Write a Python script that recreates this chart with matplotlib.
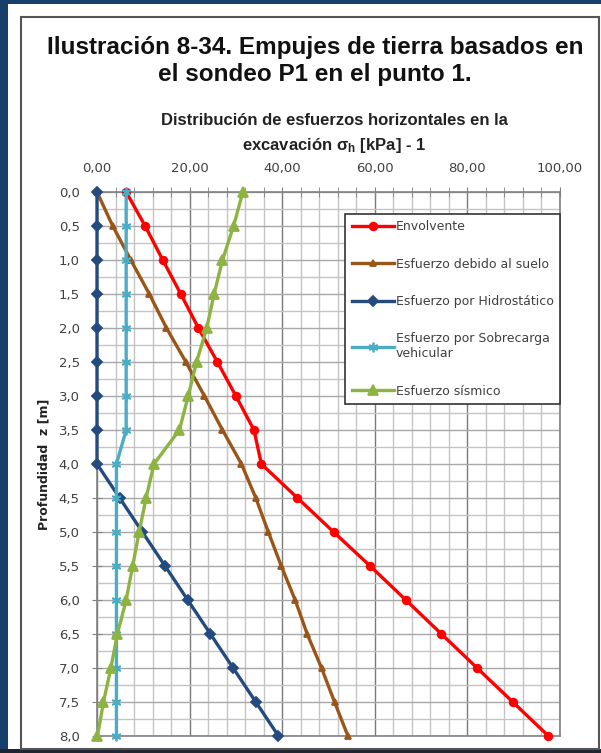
import numpy as np
import matplotlib.pyplot as plt
from matplotlib.patches import Rectangle
from matplotlib.ticker import MultipleLocator, FuncFormatter

# profundidad [m]
z = [0.0, 0.5, 1.0, 1.5, 2.0, 2.5, 3.0, 3.5, 4.0, 4.5, 5.0, 5.5, 6.0, 6.5, 7.0, 7.5, 8.0]

# esfuerzos horizontales [kPa]
envolvente = [6.3, 10.4, 14.2, 18.1, 21.9, 26.0, 30.0, 33.9, 35.5, 43.3, 51.1, 59.0, 66.7, 74.4, 82.1, 89.8, 97.5]
suelo = [0.0, 3.4, 7.3, 11.3, 15.0, 19.2, 23.2, 27.1, 31.2, 34.3, 37.0, 39.8, 42.8, 45.4, 48.5, 51.3, 54.2]
hidro = [0.0, 0.0, 0.0, 0.0, 0.0, 0.0, 0.0, 0.0, 0.0, 4.9, 9.8, 14.7, 19.6, 24.5, 29.4, 34.3, 39.2]
sobrecarga = [6.3, 6.3, 6.3, 6.3, 6.3, 6.3, 6.3, 6.3, 4.2, 4.2, 4.2, 4.2, 4.2, 4.2, 4.2, 4.2, 4.2]
sismico = [31.5, 29.5, 27.1, 25.3, 23.7, 21.5, 19.7, 17.8, 12.3, 10.6, 9.1, 7.7, 6.3, 4.4, 3.0, 1.4, 0.1]

series = [
    ("Envolvente", envolvente, "#ff0000", "o", 5.5),
    ("Esfuerzo debido al suelo", suelo, "#9a5518", "^", 5),
    ("Esfuerzo por Hidrostático", hidro, "#234b80", "D", 5),
    ("Esfuerzo por Sobrecarga\nvehicular", sobrecarga, "#4bacc6", (6, 2, 0), 7),
    ("Esfuerzo sísmico", sismico, "#8db340", "^", 7),
]

W, H = 601, 753
fig = plt.figure(figsize=(W / 100, H / 100), dpi=100, facecolor="#173f6b")

def box(x0, y0, x1, y1, **kw):
    # rectangulo en pixeles (origen arriba-izquierda)
    return Rectangle((x0 / W, 1 - y1 / H), (x1 - x0) / W, (y1 - y0) / H,
                     transform=fig.transFigure, zorder=-5, **kw)

fig.patches.append(box(8, 4, 601, 749, facecolor="white", edgecolor="none"))
fig.patches.append(box(0, 749, 601, 753, facecolor="#1f2632", edgecolor="none"))
fig.patches.append(box(21, 17, 599, 749, facecolor="none", edgecolor="#555555", lw=1.5))

fig.text(315 / W, 1 - 61 / H,
         "Ilustración 8-34. Empujes de tierra basados en\nel sondeo P1 en el punto 1.",
         ha="center", va="center", fontsize=17.5, fontweight="bold",
         family="Liberation Sans", color="#111111", linespacing=1.2)

fig.text(334 / W, 1 - 134 / H,
         "Distribución de esfuerzos horizontales en la\nexcavación $\\mathregular{\\sigma_h}$ [kPa] - 1",
         ha="center", va="center", fontsize=12, fontweight="bold",
         family="Liberation Sans", color="#222222", linespacing=1.55)

ax = fig.add_axes([97 / W, 1 - 736 / H, (560 - 97) / W, (736 - 192) / H])
ax.set_zorder(2)

for name, vals, col, mk, ms in series:
    ax.plot(vals, z, color=col, lw=2.4, marker=mk, ms=ms, mew=1.3,
            label=name, clip_on=False, zorder=3)

ax.set_xlim(0, 100)
ax.set_ylim(8, 0)
ax.xaxis.tick_top()
ax.xaxis.set_major_locator(MultipleLocator(20))
ax.xaxis.set_minor_locator(MultipleLocator(4))
ax.yaxis.set_major_locator(MultipleLocator(0.5))
ax.yaxis.set_minor_locator(MultipleLocator(0.25))
ax.xaxis.set_major_formatter(FuncFormatter(lambda v, p: f"{v:.2f}".replace(".", ",")))
ax.yaxis.set_major_formatter(FuncFormatter(lambda v, p: f"{v:.1f}".replace(".", ",")))

ax.grid(which="minor", color="#c4c4c4", lw=1.0)
ax.grid(which="major", axis="y", color="#a8a8a8", lw=1.0)
ax.grid(which="major", axis="x", color="#7a7a7a", lw=1.0)
ax.set_axisbelow(True)

ax.tick_params(axis="x", which="both", direction="inout", length=7, color="#808080",
               labelsize=9.5, labelcolor="#404040", pad=9)
ax.tick_params(axis="y", which="major", direction="inout", length=7, color="#808080",
               labelsize=9.5, labelcolor="#404040", pad=9)
ax.tick_params(axis="y", which="minor", length=0)
for s in ax.spines.values():
    s.set_color("#808080")
    s.set_linewidth(1.2)

ax.set_ylabel("Profundidad  z [m]", fontsize=9, fontweight="bold",
              color="#222222", labelpad=6)

leg = ax.legend(loc="upper right", bbox_to_anchor=(1.0, 1 - (214 - 192) / (736 - 192)),
                fontsize=9, frameon=True, fancybox=False, edgecolor="#333333",
                borderpad=0.5, labelspacing=1.95, handlelength=3.4, handletextpad=0.15,
                borderaxespad=0, framealpha=1)
leg.get_frame().set_linewidth(1.2)
for t in leg.get_texts():
    t.set_color("#404040")

fig.savefig("out.png", dpi=100, facecolor=fig.get_facecolor())
